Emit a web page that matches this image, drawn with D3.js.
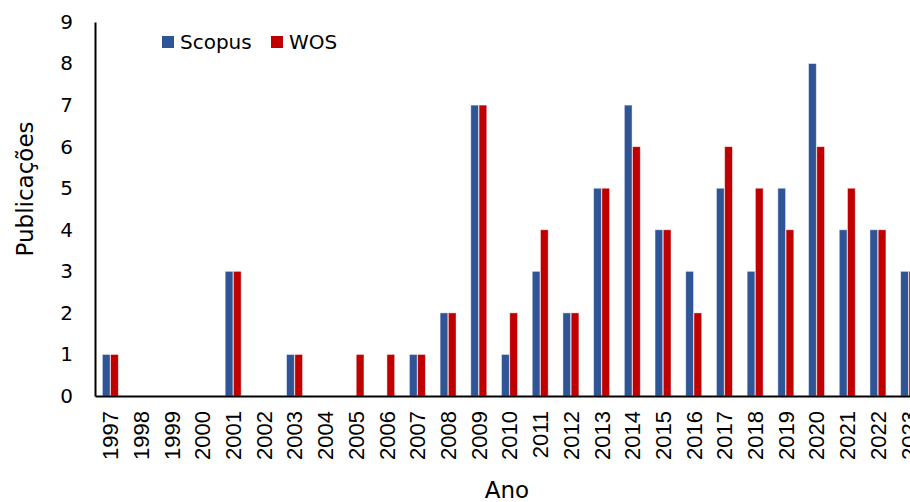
<!DOCTYPE html>
<html>
<head>
<meta charset="utf-8">
<script src="https://cdn.jsdelivr.net/npm/d3@7"></script>
<style>
  body { margin: 0; background: #fff; }
  svg { display: block; }
</style>
</head>
<body>
<svg id="chart"></svg>
<script>
// data
const years = ['1997', '1998', '1999', '2000', '2001', '2002', '2003', '2004', '2005',
    '2006', '2007', '2008', '2009', '2010', '2011', '2012', '2013', '2014', '2015',
    '2016', '2017', '2018', '2019', '2020', '2021', '2022', '2023'];
const scopus = [1, 0, 0, 0, 3, 0, 1, 0, 0, 0, 1, 2, 7, 1, 3, 2, 5, 7, 4, 3, 5, 3, 5, 8, 4, 4, 3];
const wos    = [1, 0, 0, 0, 3, 0, 1, 0, 1, 1, 1, 2, 7, 2, 4, 2, 5, 6, 4, 2, 6, 5, 4, 6, 5, 4, 3];
const seriesNames = ['Scopus', 'WOS'];
const yTicks = [0, 1, 2, 3, 4, 5, 6, 7, 8, 9];

const width = 910, height = 502;
const colors = { Scopus: '#2F5597', WOS: '#C00000' };
const labelFont = '"DejaVu Sans", Tahoma, sans-serif';

const svg = d3.select('#chart')
    .attr('width', width)
    .attr('height', height)
    .attr('viewBox', `0 0 ${width} ${height}`);

// plot area runs past the right edge, as in the original (2023 is cut off)
const plot = { left: 95, right: 924, top: 22, bottom: 396 };

const x0 = d3.scaleBand()
    .domain(years)
    .range([plot.left, plot.right])
    .paddingInner(0.48)
    .paddingOuter(0.24);

const x1 = d3.scaleBand()
    .domain(seriesNames)
    .range([0, x0.bandwidth()])
    .paddingInner(0.06);

const y = d3.scaleLinear()
    .domain([0, 9])
    .range([plot.bottom, plot.top]);

const rows = years.map((year, i) => ({
    year,
    values: [
        { key: 'Scopus', value: scopus[i] },
        { key: 'WOS', value: wos[i] }
    ]
}));

// bars
const groups = svg.append('g')
    .attr('class', 'bars')
    .selectAll('g')
    .data(rows)
    .enter().append('g')
    .attr('transform', d => `translate(${x0(d.year)},0)`);

groups.selectAll('rect')
    .data(d => d.values.filter(v => v.value > 0))
    .enter().append('rect')
    .attr('x', d => x1(d.key))
    .attr('y', d => y(d.value))
    .attr('width', x1.bandwidth())
    .attr('height', d => y(0) - y(d.value))
    .attr('fill', d => colors[d.key])
    .attr('stroke', '#fff')
    .attr('stroke-opacity', 0.55)
    .attr('stroke-width', 0.8);

// y axis
const yAxis = svg.append('g')
    .attr('transform', `translate(${plot.left},0)`)
    .call(d3.axisLeft(y).tickValues(yTicks).tickSize(0).tickPadding(22).tickFormat(d3.format('d')));
yAxis.select('.domain').attr('stroke', '#000').attr('stroke-width', 2);
yAxis.selectAll('text')
    .attr('font-family', labelFont)
    .attr('font-size', 20)
    .attr('fill', '#000');

// x axis
const xAxis = svg.append('g')
    .attr('transform', `translate(0,${plot.bottom})`)
    .call(d3.axisBottom(x0).tickSize(0).tickPadding(0).tickSizeOuter(0));
xAxis.select('.domain').attr('stroke', '#000').attr('stroke-width', 2);
xAxis.selectAll('text')
    .attr('font-family', '"Liberation Sans", Arial, sans-serif')
    .attr('font-size', 22)
    .attr('fill', '#000')
    .attr('text-anchor', 'end')
    .attr('dy', '0.36em')
    .attr('transform', 'translate(0,15) rotate(-90)');

// axis titles
svg.append('text')
    .attr('x', 507)
    .attr('y', 498)
    .attr('text-anchor', 'middle')
    .attr('font-family', labelFont)
    .attr('font-size', 23)
    .text('Ano');

svg.append('text')
    .attr('transform', 'translate(33,189) rotate(-90)')
    .attr('text-anchor', 'middle')
    .attr('font-family', labelFont)
    .attr('font-size', 23)
    .text('Publicações');

// legend
const legend = svg.append('g')
    .attr('class', 'legend')
    .selectAll('g')
    .data(seriesNames)
    .enter().append('g')
    .attr('transform', (d, i) => `translate(${[162, 271][i]},36)`);

legend.append('rect')
    .attr('width', 12)
    .attr('height', 12)
    .attr('fill', d => colors[d]);

legend.append('text')
    .attr('x', 18)
    .attr('y', 6)
    .attr('dy', '0.36em')
    .attr('font-family', labelFont)
    .attr('font-size', 20)
    .text(d => d);
</script>
</body>
</html>
